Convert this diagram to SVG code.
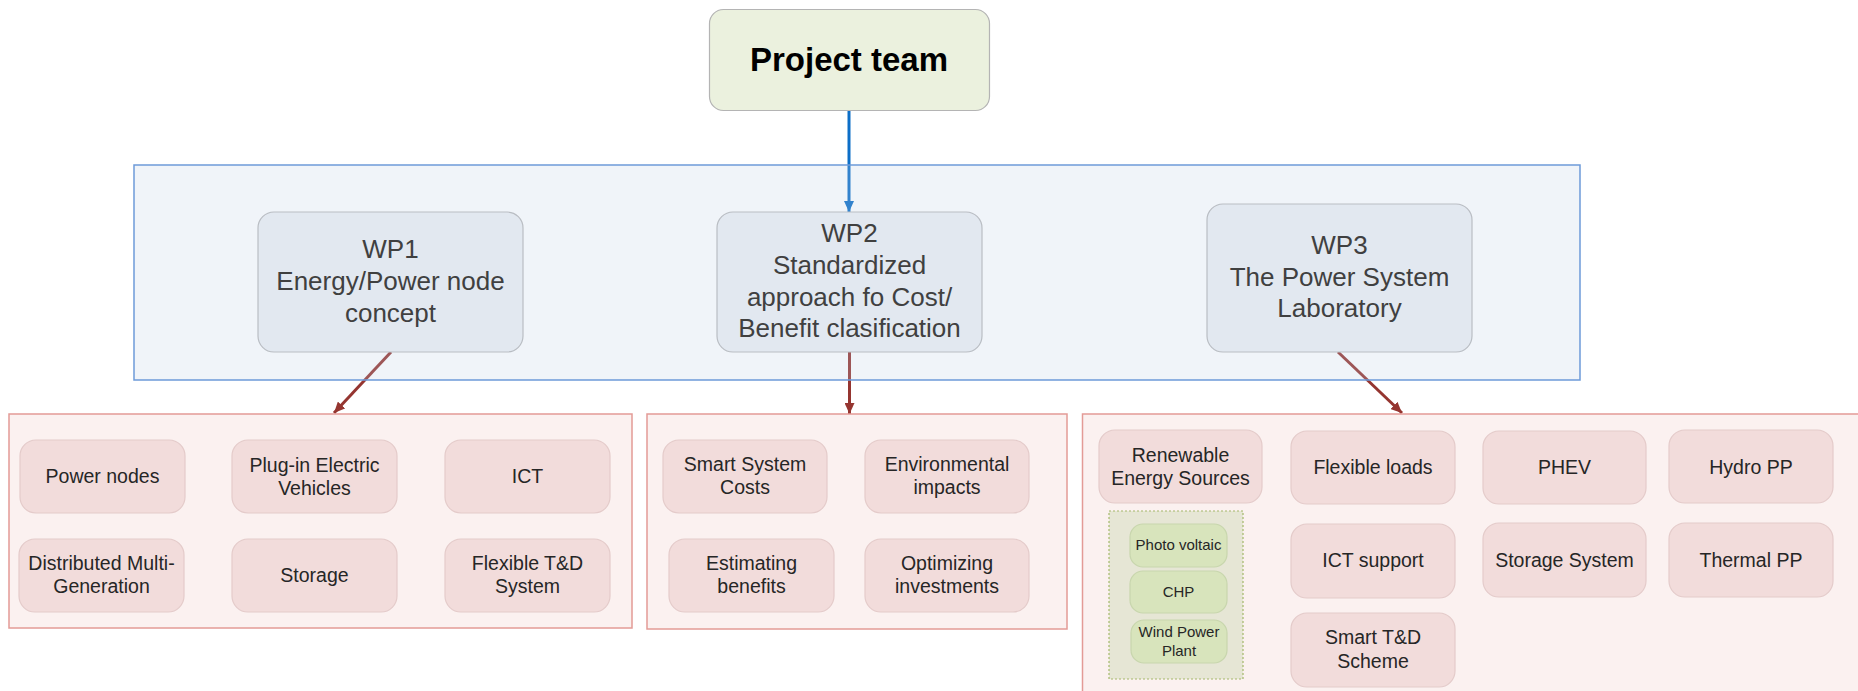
<svg xmlns="http://www.w3.org/2000/svg" width="1858" height="691" viewBox="0 0 1858 691">
  <defs>
    <marker id="ah-blue" markerUnits="userSpaceOnUse" markerWidth="11" markerHeight="10" refX="11" refY="5" orient="auto">
      <path d="M0,0 L11,5 L0,10 z" fill="#0c6ec7"/>
    </marker>
    <marker id="ah-red" markerUnits="userSpaceOnUse" markerWidth="11" markerHeight="10" refX="11" refY="5" orient="auto">
      <path d="M0,0 L11,5 L0,10 z" fill="#953530"/>
    </marker>
  </defs>
  <style>
    text { font-family: "Liberation Sans", Arial, sans-serif; text-anchor: middle; }
    .top { fill: #ebf1de; stroke: #b4b4b4; stroke-width: 1.2; }
    .top-t { font-size: 33px; font-weight: bold; fill: #000; }
    .band { fill: #bbcde4; fill-opacity: 0.22; stroke: #6d9ad9; stroke-width: 1.5; }
    .wp { fill: #e2e8f0; stroke: #b9bdc3; stroke-width: 1.2; }
    .wp-t { font-size: 26px; fill: #404040; }
    .grp { fill: #fbf1f0; stroke: #e39b96; stroke-width: 1.5; }
    .item { fill: #f2dcdb; stroke: #e4cbca; stroke-width: 1.2; }
    .item-t { font-size: 19.5px; fill: #262626; }
    .res { fill: #e6e6d5; stroke: #a3b86a; stroke-width: 1.2; stroke-dasharray: 2 2; }
    .sub { fill: #d8e4bc; stroke: #c8d6ad; stroke-width: 1.2; }
    .sub-t { font-size: 15px; fill: #262626; }
    .c-blue { stroke: #0c6ec7; stroke-width: 3; fill: none; marker-end: url(#ah-blue); }
    .c-red { stroke: #953530; stroke-width: 3; fill: none; marker-end: url(#ah-red); }
  </style>

  <rect width="1858" height="691" fill="#ffffff"/>

  <!-- connectors (drawn under the translucent work-package band) -->
  <g id="connectors">
    <line class="c-blue" x1="849" y1="111" x2="849" y2="212"/>
    <line class="c-red" x1="391" y1="352" x2="334" y2="413"/>
    <line class="c-red" x1="849.5" y1="352" x2="849.5" y2="414"/>
    <line class="c-red" x1="1338" y1="352" x2="1402" y2="413"/>
  </g>

  <!-- work-package band -->
  <g id="wp-band">
    <rect class="band" x="134" y="165" width="1446" height="215"/>
  </g>

  <g id="project-team">
    <rect class="top" x="709.5" y="9.5" width="280" height="101" rx="14"/>
    <text class="top-t" x="849" y="71">Project team</text>
  </g>

  <g id="wp1">
    <rect class="wp" x="258" y="212" width="265" height="140" rx="16"/>
    <text class="wp-t" x="390.5" y="258">WP1</text>
    <text class="wp-t" x="390.5" y="290">Energy/Power node</text>
    <text class="wp-t" x="390.5" y="322">concept</text>
  </g>

  <g id="wp2">
    <rect class="wp" x="717" y="212" width="265" height="140" rx="16"/>
    <text class="wp-t" x="849.5" y="242">WP2</text>
    <text class="wp-t" x="849.5" y="274">Standardized</text>
    <text class="wp-t" x="849.5" y="306">approach fo Cost/</text>
    <text class="wp-t" x="849.5" y="337">Benefit clasification</text>
  </g>

  <g id="wp3">
    <rect class="wp" x="1207" y="204" width="265" height="148" rx="16"/>
    <text class="wp-t" x="1339.5" y="254">WP3</text>
    <text class="wp-t" x="1339.5" y="286">The Power System</text>
    <text class="wp-t" x="1339.5" y="317">Laboratory</text>
  </g>

  <!-- WP1 topics -->
  <g id="wp1-topics">
    <rect class="grp" x="9" y="414" width="623" height="214"/>
  </g>
  <g id="power-nodes">
    <rect class="item" x="20" y="440" width="165" height="73" rx="16"/>
    <text class="item-t" x="102.5" y="483">Power nodes</text>
  </g>
  <g id="plug-in-ev">
    <rect class="item" x="232" y="440" width="165" height="73" rx="16"/>
    <text class="item-t" x="314.5" y="472">Plug-in Electric</text>
    <text class="item-t" x="314.5" y="495">Vehicles</text>
  </g>
  <g id="ict">
    <rect class="item" x="445" y="440" width="165" height="73" rx="16"/>
    <text class="item-t" x="527.5" y="483">ICT</text>
  </g>
  <g id="dmg">
    <rect class="item" x="19" y="539" width="165" height="73" rx="16"/>
    <text class="item-t" x="101.5" y="570">Distributed Multi-</text>
    <text class="item-t" x="101.5" y="593">Generation</text>
  </g>
  <g id="storage">
    <rect class="item" x="232" y="539" width="165" height="73" rx="16"/>
    <text class="item-t" x="314.5" y="582">Storage</text>
  </g>
  <g id="flexible-td">
    <rect class="item" x="445" y="539" width="165" height="73" rx="16"/>
    <text class="item-t" x="527.5" y="570">Flexible T&amp;D</text>
    <text class="item-t" x="527.5" y="593">System</text>
  </g>

  <!-- WP2 topics -->
  <g id="wp2-topics">
    <rect class="grp" x="647" y="414" width="420" height="215"/>
  </g>
  <g id="smart-costs">
    <rect class="item" x="663" y="440" width="164" height="73" rx="16"/>
    <text class="item-t" x="745" y="471">Smart System</text>
    <text class="item-t" x="745" y="494">Costs</text>
  </g>
  <g id="env-impacts">
    <rect class="item" x="865" y="440" width="164" height="73" rx="16"/>
    <text class="item-t" x="947" y="471">Environmental</text>
    <text class="item-t" x="947" y="494">impacts</text>
  </g>
  <g id="est-benefits">
    <rect class="item" x="669" y="539" width="165" height="73" rx="16"/>
    <text class="item-t" x="751.5" y="570">Estimating</text>
    <text class="item-t" x="751.5" y="593">benefits</text>
  </g>
  <g id="opt-investments">
    <rect class="item" x="865" y="539" width="164" height="73" rx="16"/>
    <text class="item-t" x="947" y="570">Optimizing</text>
    <text class="item-t" x="947" y="593">investments</text>
  </g>

  <!-- WP3 topics -->
  <g id="wp3-topics">
    <rect class="grp" x="1082.5" y="414" width="800" height="300"/>
  </g>
  <g id="res">
    <rect class="item" x="1099" y="430" width="163" height="73" rx="16"/>
    <text class="item-t" x="1180.5" y="462">Renewable</text>
    <text class="item-t" x="1180.5" y="485">Energy Sources</text>
  </g>
  <g id="res-types">
    <rect class="res" x="1109" y="511" width="134" height="168"/>
  </g>
  <g id="photovoltaic">
    <rect class="sub" x="1130" y="524" width="97" height="43" rx="13"/>
    <text class="sub-t" x="1178.5" y="550">Photo voltaic</text>
  </g>
  <g id="chp">
    <rect class="sub" x="1130" y="571" width="97" height="42" rx="13"/>
    <text class="sub-t" x="1178.5" y="597">CHP</text>
  </g>
  <g id="wind">
    <rect class="sub" x="1131" y="620" width="96" height="43" rx="13"/>
    <text class="sub-t" x="1179" y="637">Wind Power</text>
    <text class="sub-t" x="1179" y="656">Plant</text>
  </g>
  <g id="flexible-loads">
    <rect class="item" x="1291" y="431" width="164" height="73" rx="16"/>
    <text class="item-t" x="1373" y="474">Flexible loads</text>
  </g>
  <g id="phev">
    <rect class="item" x="1483" y="431" width="163" height="73" rx="16"/>
    <text class="item-t" x="1564.5" y="474">PHEV</text>
  </g>
  <g id="hydro">
    <rect class="item" x="1669" y="430" width="164" height="73" rx="16"/>
    <text class="item-t" x="1751" y="474">Hydro PP</text>
  </g>
  <g id="ict-support">
    <rect class="item" x="1291" y="524" width="164" height="74" rx="16"/>
    <text class="item-t" x="1373" y="567">ICT support</text>
  </g>
  <g id="storage-system">
    <rect class="item" x="1483" y="523" width="163" height="74" rx="16"/>
    <text class="item-t" x="1564.5" y="567">Storage System</text>
  </g>
  <g id="thermal">
    <rect class="item" x="1669" y="523" width="164" height="74" rx="16"/>
    <text class="item-t" x="1751" y="567">Thermal PP</text>
  </g>
  <g id="smart-td">
    <rect class="item" x="1291" y="613" width="164" height="74" rx="16"/>
    <text class="item-t" x="1373" y="644">Smart T&amp;D</text>
    <text class="item-t" x="1373" y="668">Scheme</text>
  </g>
</svg>
